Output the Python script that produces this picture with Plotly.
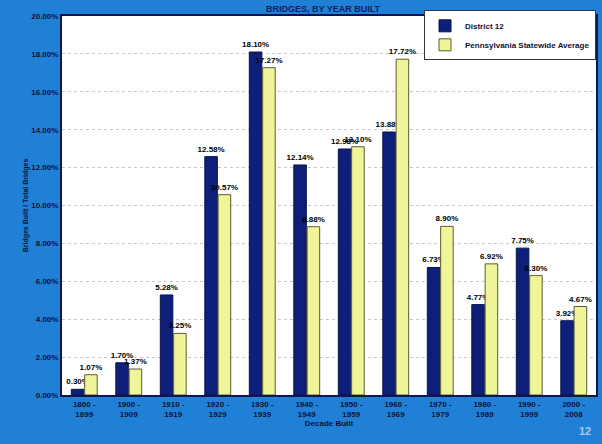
import plotly.graph_objects as go

categories = ["1800 -<br>1899", "1900 -<br>1909", "1910 -<br>1919", "1920 -<br>1929",
              "1930 -<br>1939", "1940 -<br>1949", "1950 -<br>1959", "1960 -<br>1969",
              "1970 -<br>1979", "1980 -<br>1989", "1990 -<br>1999", "2000 -<br>2008"]
district12 = [0.30, 1.70, 5.28, 12.58, 18.10, 12.14, 12.98, 13.88, 6.73, 4.77, 7.75, 3.92]
statewide = [1.07, 1.37, 3.25, 10.57, 17.27, 8.88, 13.10, 17.72, 8.90, 6.92, 6.30, 4.67]
y_ticks = [0, 2, 4, 6, 8, 10, 12, 14, 16, 18, 20]

FONT = "Liberation Sans"
BG = "#1f80d6"
NAVY = "#0d1f78"
YELLOW = "#f1f59a"

fig = go.Figure()
fig.add_trace(go.Bar(
    x=categories, y=district12, name="District 12",
    marker=dict(color=NAVY, line=dict(color="#0a1450", width=1)),
    texttemplate="%{y:.2f}%", textposition="outside", cliponaxis=False,
    textfont=dict(family=FONT, size=8, color="black", weight="bold"),
))
fig.add_trace(go.Bar(
    x=categories, y=statewide, name="Pennsylvania Statewide Average",
    marker=dict(color=YELLOW, line=dict(color="#5a5a30", width=1)),
    texttemplate="%{y:.2f}%", textposition="outside", cliponaxis=False,
    textfont=dict(family=FONT, size=8, color="black", weight="bold"),
))

fig.update_layout(
    width=602, height=444,
    paper_bgcolor=BG, plot_bgcolor="white",
    margin=dict(l=62, r=4, t=16, b=49),
    barmode="group", bargap=0.4, bargroupgap=0.06,
    font=dict(family=FONT, size=8, color="#111133", weight="bold"),
    showlegend=True,
    legend=dict(
        x=1.0, y=1.015, xanchor="right", yanchor="top",
        bgcolor="white", bordercolor="#333344", borderwidth=1,
        font=dict(family=FONT, size=8, color="#111133", weight="bold"),
        tracegroupgap=0, itemwidth=30,
    ),
    uniformtext=dict(minsize=7, mode="show"),
)
fig.update_xaxes(
    showline=True, linecolor="#0a1450", linewidth=2, mirror=True,
    tickfont=dict(family=FONT, size=8, color="#111133", weight="bold"),
    title=dict(text="Decade Built", standoff=2,
               font=dict(family=FONT, size=8, color="#111133", weight="bold")),
)
fig.update_yaxes(
    range=[0, 20], tickvals=y_ticks, ticktext=[f"{v:.2f}%" for v in y_ticks],
    showgrid=True, gridcolor="#c8c8c8", griddash="dot", gridwidth=1,
    showline=True, linecolor="#0a1450", linewidth=2, mirror=True,
    zeroline=False,
    tickfont=dict(family=FONT, size=8, color="#111133", weight="bold"),
    title=dict(text="Bridges Built / Total Bridges", standoff=2,
               font=dict(family=FONT, size=7, color="#111133", weight="bold")),
)
fig.add_annotation(text="BRIDGES, BY YEAR BUILT", xref="paper", yref="paper",
                   x=0.49, y=1.0, xanchor="center", yanchor="bottom", showarrow=False,
                   font=dict(family=FONT, size=9, color="#0d1f60", weight="bold"))
fig.add_annotation(text="12", xref="paper", yref="paper", x=0.995, y=-0.095,
                   xanchor="right", yanchor="middle", showarrow=False,
                   font=dict(family=FONT, size=11, color="#a8c8ee"))

fig.write_html("out.html", config={"displayModeBar": False},
               post_script="document.body.style.margin='0';document.body.style.padding='0';")
